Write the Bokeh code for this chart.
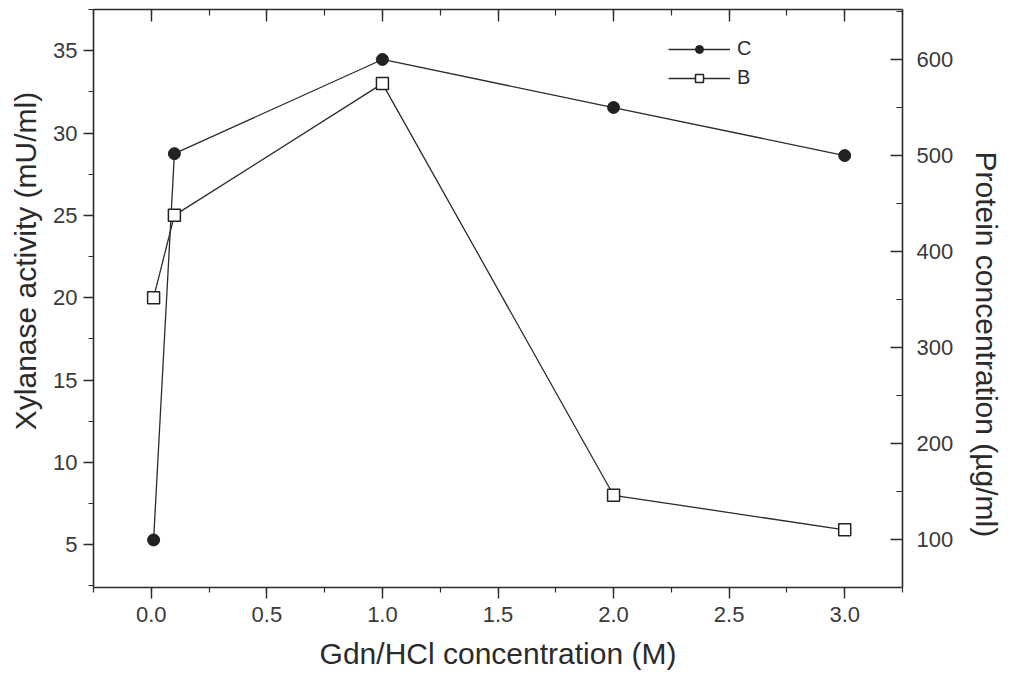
from bokeh.plotting import figure
from bokeh.models import (Range1d, LinearAxis, SingleIntervalTicker, NumeralTickFormatter,
                          CustomJSTickFormatter, Legend, LegendItem)
from bokeh.embed import file_html
from bokeh.resources import INLINE

# Data
gdn_conc = [0.01, 0.1, 1.0, 2.0, 3.0]
protein_C = [100, 502, 600, 550, 500]          # right axis, µg/ml
activity_B = [20.0, 25.0, 33.0, 8.0, 5.9]      # left axis, mU/ml

FONT = "Liberation Sans"
INK = "#2b2b2b"
NB = "\u00a0"

p = figure(width=1016, height=681, output_backend="svg", toolbar_location=None,
           x_range=Range1d(-0.25, 3.25), y_range=Range1d(2.4, 37.5),
           min_border_left=93, min_border_right=114, min_border_top=9, min_border_bottom=94,
           x_axis_location=None, y_axis_location=None)
p.outline_line_color = None
p.xgrid.visible = False
p.ygrid.visible = False
p.background_fill_color = "white"
p.border_fill_color = "white"
p.extra_y_ranges = {"right": Range1d(50.5, 652)}

def style(ax, tin, tout, mtin, mtout):
    ax.axis_line_color = INK
    ax.axis_line_width = 1.6
    ax.major_tick_line_color = INK
    ax.minor_tick_line_color = INK
    ax.major_tick_line_width = 1.4
    ax.minor_tick_line_width = 1.2
    ax.major_tick_in = tin
    ax.major_tick_out = tout
    ax.minor_tick_in = mtin
    ax.minor_tick_out = mtout
    ax.major_label_text_font = FONT
    ax.major_label_text_font_size = "22px"
    ax.major_label_text_color = "#3a3a3a"
    ax.axis_label_text_font = FONT
    ax.axis_label_text_font_size = "30px"
    ax.axis_label_text_font_style = "normal"
    ax.axis_label_text_color = INK

# bottom axis
xb = LinearAxis(ticker=SingleIntervalTicker(interval=0.5, num_minor_ticks=2),
                formatter=NumeralTickFormatter(format="0.0"),
                axis_label="Gdn/HCl concentration (M)")
style(xb, 0, 11, 0, 5)
xb.major_label_standoff = 8
xb.axis_label_standoff = 12
p.add_layout(xb, "below")

# top axis (ticks only)
xt = LinearAxis(ticker=SingleIntervalTicker(interval=0.5, num_minor_ticks=2),
                formatter=CustomJSTickFormatter(code="return ''"))
style(xt, 12, 0, 6, 0)
xt.major_label_standoff = 0
p.add_layout(xt, "above")

# left axis
yl = LinearAxis(ticker=SingleIntervalTicker(interval=5, num_minor_ticks=2),
                axis_label=NB * 9 + "Xylanase activity (mU/ml)")
style(yl, 0, 10, 0, 5)
yl.major_label_standoff = 6
yl.axis_label_standoff = 8
p.add_layout(yl, "left")

# right axis
yr = LinearAxis(y_range_name="right",
                ticker=SingleIntervalTicker(interval=100, num_minor_ticks=2),
                axis_label=NB * 11 + "Protein concentration (\u00b5g/ml)")
style(yr, 12, 0, 6, 0)
yr.major_label_standoff = 14
yr.axis_label_standoff = 14
p.add_layout(yr, "right")

# series C (protein, right axis)
lc = p.line(gdn_conc, protein_C, y_range_name="right", line_color=INK, line_width=1.3)
sc = p.scatter(gdn_conc, protein_C, y_range_name="right", marker="circle", size=12,
               fill_color="#222222", line_color="#222222", line_width=1)

# series B (activity, left axis)
lb = p.line(gdn_conc, activity_B, line_color=INK, line_width=1.3)
sb = p.scatter(gdn_conc, activity_B, marker="square", size=12,
               fill_color="white", line_color="#222222", line_width=1.5)

legend = Legend(items=[LegendItem(label="C", renderers=[lc, sc]),
                       LegendItem(label="B", renderers=[lb, sb])],
                location=(575, 498), padding=0, margin=0, spacing=6,
                glyph_width=62, glyph_height=20, label_standoff=7,
                border_line_color=None, background_fill_alpha=0,
                label_text_font=FONT, label_text_font_size="20px",
                label_text_color=INK)
p.add_layout(legend, "center")

open("out.html", "w").write(file_html(p, INLINE))
